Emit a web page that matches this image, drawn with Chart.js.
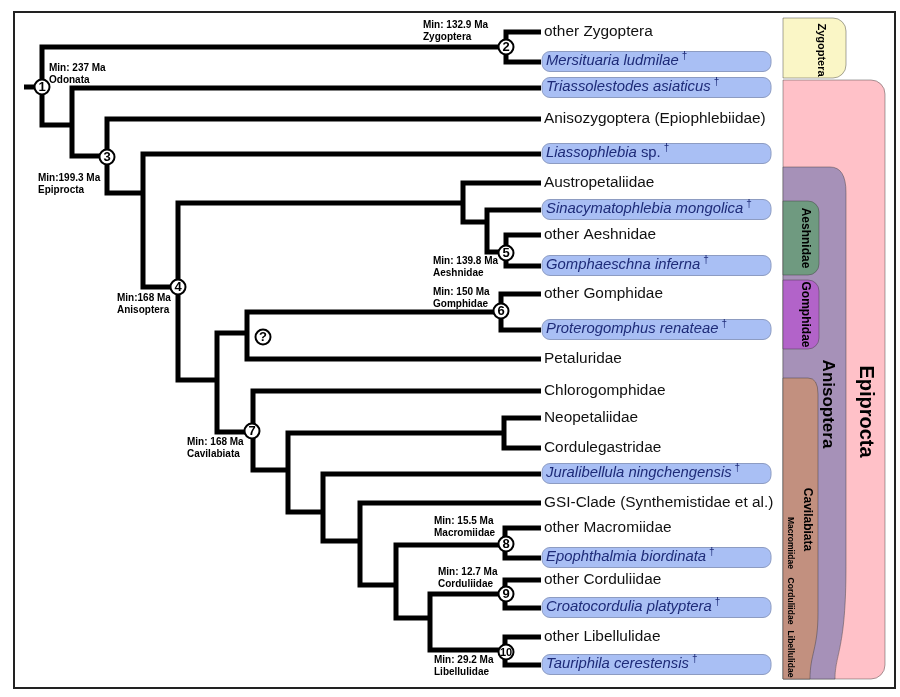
<!DOCTYPE html>
<html>
<head>
<meta charset="utf-8">
<script src="https://cdn.jsdelivr.net/npm/chart.js@4.4.0/dist/chart.umd.min.js"></script>
<style>
  html, body { margin: 0; padding: 0; background: #fff; }
  #wrap { position: relative; width: 900px; height: 697px; }
  #frame { position: absolute; left: 13px; top: 11px; width: 879px; height: 674px; border: 2px solid #222; }
  #tree { position: absolute; left: 0; top: 0; }
</style>
</head>
<body>
<div id="wrap"><div id="frame"></div><canvas id="tree" width="900" height="697"></canvas></div>
<script>
// --- DATA ---
// leaves, top to bottom; LEAF_POS is the row position
const LEAF_NAMES = ['other Zygoptera', 'Mersituaria ludmilae', 'Triassolestodes asiaticus',
  'Anisozygoptera (Epiophlebiidae)', 'Liassophlebia sp.', 'Austropetaliidae',
  'Sinacymatophlebia mongolica', 'other Aeshnidae', 'Gomphaeschna inferna', 'other Gomphidae',
  'Proterogomphus renateae', 'Petaluridae', 'Chlorogomphidae', 'Neopetaliidae', 'Cordulegastridae',
  'Juralibellula ningchengensis', 'GSI-Clade (Synthemistidae et al.)', 'other Macromiidae',
  'Epophthalmia biordinata', 'other Corduliidae', 'Croatocordulia platyptera', 'other Libellulidae',
  'Tauriphila cerestensis'];
const LEAF_POS = [32, 62, 88, 119, 154, 183, 210, 235, 266, 294, 330, 359, 391, 418, 448, 474, 503, 528, 558, 580, 608, 637, 665];
const LEAF_FOSSIL = [0, 1, 1, 0, 1, 0, 1, 0, 1, 0, 1, 0, 0, 0, 0, 1, 0, 0, 1, 0, 1, 0, 1];

// internal nodes: depth, row, and the two children (L = leaf index, N = node index)
const NODE_DEPTH = [42, 506, 72, 107, 143, 178, 463, 487, 506, 217, 247, 501, 253, 288, 504, 323, 360, 396, 505, 430, 505, 505];
const NODE_POS = [87, 47, 125, 156, 193, 287, 203, 222, 252, 380, 333, 312, 432, 470, 433, 512, 541, 585, 545, 618, 594, 650];
const NODE_KIDS = [['N1', 'N2'], ['L0', 'L1'], ['L2', 'N3'], ['L3', 'N4'], ['L4', 'N5'], ['N6', 'N9'],
  ['L5', 'N7'], ['L6', 'N8'], ['L7', 'L8'], ['N10', 'N12'], ['N11', 'L11'], ['L9', 'L10'],
  ['L12', 'N13'], ['N14', 'N15'], ['L13', 'L14'], ['L15', 'N16'], ['L16', 'N17'], ['N18', 'N19'],
  ['L17', 'L18'], ['N20', 'N21'], ['L19', 'L20'], ['L21', 'L22']];
const ROOT_DEPTH = 24;
const TIP_DEPTH = 541;

// numbered calibration points
const MARKER_LABELS = ['1', '2', '3', '4', '5', '6', '?', '7', '8', '9', '10'];
const MARKER_DEPTH = [42, 506, 107, 178, 506, 501, 263, 252, 506, 506, 506];
const MARKER_POS = [87, 47, 157, 287, 253, 311, 337, 431, 544, 594, 652];

// minimum ages
const AGE_TEXT = ['Min: 237 Ma', 'Min: 132.9 Ma', 'Min:199.3 Ma', 'Min:168 Ma', 'Min: 139.8 Ma',
  'Min: 150 Ma', 'Min: 168 Ma', 'Min: 15.5 Ma', 'Min: 12.7 Ma', 'Min: 29.2 Ma'];
const AGE_CLADE = ['Odonata', 'Zygoptera', 'Epiprocta', 'Anisoptera', 'Aeshnidae', 'Gomphidae',
  'Cavilabiata', 'Macromiidae', 'Corduliidae', 'Libellulidae'];
const AGE_DEPTH = [49, 423, 38, 117, 433, 433, 187, 434, 438, 434];
const AGE_POS = [68, 25, 178, 298, 261, 292, 442, 521, 572, 660];

// clade bands on the right (leaf spans)
const CLADE_NAMES = ['Epiprocta', 'Zygoptera', 'Anisoptera', 'Aeshnidae', 'Gomphidae', 'Cavilabiata'];
const CLADE_FIRST = [2, 0, 5, 6, 9, 12];
const CLADE_LAST = [22, 1, 22, 8, 10, 22];
const SUB_NAMES = ['Macromiidae', 'Corduliidae', 'Libellulidae'];
const SUB_FIRST = [17, 19, 21];

// --- STYLE ---
const FONT = "'Liberation Sans', Arial, sans-serif";
const PLAIN_STRETCH = 1.1;
const ITALIC_STRETCH = 1.06;
const BAND_STYLE = {
  Epiprocta:   { right: 885, color: '#ffc1c8', r: 14, font: 'bold 20px', tx: 866, dy: 32, pad: [5, 0] },
  Zygoptera:   { right: 846, color: '#faf6c6', r: 13, font: 'bold 11px', tx: 821, dy: 2, pad: [0, 3] },
  Anisoptera:  { right: 846, bottomRight: 835, color: '#a691b8', r: 16, font: 'bold 17px', tx: 828, dy: -19, pad: [-1.5, 0] },
  Aeshnidae:   { right: 819, color: '#6f9a80', r: 11, font: 'bold 12px', tx: 805, dy: 0, pad: [4.5, -5] },
  Gomphidae:   { right: 819, color: '#b263c9', r: 11, font: 'bold 12px', tx: 805, dy: 0, pad: [0, 4.5] },
  Cavilabiata: { right: 818, bottomRight: 810, color: '#c2907f', r: 10, font: 'bold 12px', tx: 807, dy: -9, pad: [3, 0] },
};
const SUB_DY = [0, 7, 3];
const BAND_LEFT = 783;

// --- BUILD TREE LINES ---
const kidDepth = k => k[0] === 'L' ? TIP_DEPTH : NODE_DEPTH[+k.slice(1)];
const kidPos = k => k[0] === 'L' ? LEAF_POS[+k.slice(1)] : NODE_POS[+k.slice(1)];

const branchPoints = [{ x: ROOT_DEPTH, y: NODE_POS[0] }, { x: NODE_DEPTH[0], y: NODE_POS[0] }, { x: ROOT_DEPTH, y: null }];
NODE_KIDS.forEach(([a, b], i) => {
  branchPoints.push(
    { x: kidDepth(a), y: kidPos(a) },
    { x: NODE_DEPTH[i], y: kidPos(a) },
    { x: NODE_DEPTH[i], y: kidPos(b) },
    { x: kidDepth(b), y: kidPos(b) },
    { x: NODE_DEPTH[i], y: null }
  );
});
const markerPoints = MARKER_LABELS.map((_, i) => ({ x: MARKER_DEPTH[i], y: MARKER_POS[i] }));

// --- HELPERS ---
function bandSpan(first, last, pad) {
  const top = first > 0 ? (LEAF_POS[first - 1] + LEAF_POS[first]) / 2 : LEAF_POS[0] - 14;
  const bottom = last < LEAF_POS.length - 1 ? (LEAF_POS[last] + LEAF_POS[last + 1]) / 2 : LEAF_POS[last] + 14;
  return [top + pad[0], bottom + pad[1]];
}

function bandPath(ctx, x0, y0, x1, y1, r, xb) {
  ctx.beginPath();
  ctx.moveTo(x0, y0);
  ctx.lineTo(x1 - r, y0);
  if (xb === undefined) {
    ctx.arcTo(x1, y0, x1, y0 + r, r);
    ctx.lineTo(x1, y1 - r);
    ctx.arcTo(x1, y1, x1 - r, y1, r);
  } else {
    ctx.quadraticCurveTo(x1, y0, x1, y0 + r * 1.6);
    ctx.lineTo(x1, y1 - (y1 - y0) * 0.22);
    ctx.bezierCurveTo(x1, y1 - 30, xb, y1 - 25, xb, y1);
  }
  ctx.lineTo(x0, y1);
  ctx.closePath();
}

function rotatedText(ctx, text, cx, cy) {
  ctx.save();
  ctx.translate(cx, cy);
  ctx.rotate(Math.PI / 2);
  ctx.textAlign = 'center';
  ctx.textBaseline = 'middle';
  ctx.fillText(text, 0, 0);
  ctx.restore();
}

// draws horizontally stretched label text, returns its width
function wideText(ctx, text, px, py, stretch) {
  ctx.save();
  ctx.translate(px, py);
  ctx.scale(stretch, 1);
  ctx.fillText(text, 0, 0);
  ctx.restore();
  return ctx.measureText(text).width * stretch;
}

function roundBox(ctx, x0, y0, x1, y1, r) {
  ctx.beginPath();
  ctx.moveTo(x0 + r, y0);
  ctx.arcTo(x1, y0, x1, y1, r);
  ctx.arcTo(x1, y1, x0, y1, r);
  ctx.arcTo(x0, y1, x0, y0, r);
  ctx.arcTo(x0, y0, x1, y0, r);
  ctx.closePath();
}

// --- PLUGIN: bands, labels, node numbers ---
const treeDecor = {
  id: 'treeDecor',
  beforeDatasetsDraw(chart) {
    const { ctx, scales: { x, y } } = chart;
    ctx.save();
    // clade bands
    CLADE_NAMES.forEach((name, i) => {
      const s = BAND_STYLE[name];
      const [top, bottom] = bandSpan(CLADE_FIRST[i], CLADE_LAST[i], s.pad);
      const y0 = y.getPixelForValue(top), y1 = y.getPixelForValue(bottom);
      bandPath(ctx, x.getPixelForValue(BAND_LEFT), y0, x.getPixelForValue(s.right), y1, s.r,
        s.bottomRight === undefined ? undefined : x.getPixelForValue(s.bottomRight));
      ctx.fillStyle = s.color;
      ctx.fill();
      ctx.strokeStyle = 'rgba(60,60,60,0.45)';
      ctx.lineWidth = 1;
      ctx.stroke();
    });
    ctx.fillStyle = '#000';
    CLADE_NAMES.forEach((name, i) => {
      const s = BAND_STYLE[name];
      const [top, bottom] = bandSpan(CLADE_FIRST[i], CLADE_LAST[i], s.pad);
      ctx.font = `${s.font} ${FONT}`;
      rotatedText(ctx, name, x.getPixelForValue(s.tx), y.getPixelForValue((top + bottom) / 2 + s.dy));
    });
    ctx.font = `bold 8.5px ${FONT}`;
    SUB_NAMES.forEach((name, i) => {
      const mid = (LEAF_POS[SUB_FIRST[i]] + LEAF_POS[SUB_FIRST[i] + 1]) / 2 + SUB_DY[i];
      rotatedText(ctx, name, x.getPixelForValue(790), y.getPixelForValue(mid));
    });

    // fossil boxes
    LEAF_NAMES.forEach((name, i) => {
      if (!LEAF_FOSSIL[i]) return;
      const py = y.getPixelForValue(LEAF_POS[i]);
      roundBox(ctx, x.getPixelForValue(TIP_DEPTH + 1), py - 10.5, x.getPixelForValue(771), py + 9.5, 8);
      ctx.fillStyle = '#a9bff4';
      ctx.fill();
      ctx.strokeStyle = '#8d9cc2';
      ctx.lineWidth = 1;
      ctx.stroke();
    });
    ctx.restore();
  },
  afterDatasetsDraw(chart) {
    const { ctx, scales: { x, y } } = chart;
    ctx.save();
    ctx.textBaseline = 'middle';
    ctx.textAlign = 'left';

    // leaf labels
    LEAF_NAMES.forEach((name, i) => {
      const py = y.getPixelForValue(LEAF_POS[i]);
      if (!LEAF_FOSSIL[i]) {
        ctx.font = `14px ${FONT}`;
        ctx.fillStyle = '#111';
        wideText(ctx, name, x.getPixelForValue(TIP_DEPTH + 3), py, PLAIN_STRETCH);
        return;
      }
      let px = x.getPixelForValue(TIP_DEPTH + 5);
      const [genus, rest] = name.endsWith(' sp.') ? [name.slice(0, -4), ' sp.'] : [name, ''];
      ctx.fillStyle = '#1e2b78';
      ctx.font = `italic 14px ${FONT}`;
      px += wideText(ctx, genus, px, py - 1, ITALIC_STRETCH);
      if (rest) {
        ctx.font = `14px ${FONT}`;
        px += wideText(ctx, rest, px, py - 1, ITALIC_STRETCH);
      }
      ctx.font = `10px ${FONT}`;
      ctx.fillText('\u2020', px + 3, py - 6);
    });

    // minimum ages
    ctx.fillStyle = '#000';
    ctx.font = `bold 10px ${FONT}`;
    AGE_TEXT.forEach((t, i) => {
      const px = x.getPixelForValue(AGE_DEPTH[i]);
      const py = y.getPixelForValue(AGE_POS[i]);
      ctx.fillText(t, px, py);
      ctx.fillText(AGE_CLADE[i], px, py + 12);
    });

    // node numbers
    ctx.textAlign = 'center';
    MARKER_LABELS.forEach((t, i) => {
      ctx.font = `bold ${t.length > 1 ? 11 : 13}px ${FONT}`;
      ctx.fillText(t, x.getPixelForValue(MARKER_DEPTH[i]), y.getPixelForValue(MARKER_POS[i]) + 0.5);
    });
    ctx.restore();
  }
};

// --- CHART ---
new Chart(document.getElementById('tree'), {
  type: 'scatter',
  data: {
    datasets: [
      {
        label: 'nodes',
        data: markerPoints,
        order: 0,
        pointRadius: 7.5,
        pointHoverRadius: 7.5,
        pointBackgroundColor: '#fff',
        pointBorderColor: '#000',
        pointBorderWidth: 2,
      },
      {
        label: 'branches',
        data: branchPoints,
        order: 1,
        showLine: true,
        spanGaps: false,
        borderColor: '#000',
        borderWidth: 5,
        borderJoinStyle: 'miter',
        borderCapStyle: 'butt',
        pointRadius: 0,
        tension: 0,
      }
    ]
  },
  options: {
    responsive: false,
    devicePixelRatio: 1,
    animation: false,
    events: [],
    layout: { padding: 0, autoPadding: false },
    plugins: { legend: { display: false }, tooltip: { enabled: false } },
    scales: {
      x: { type: 'linear', min: 0, max: 900, display: false },
      y: { type: 'linear', min: 0, max: 697, reverse: true, display: false }
    }
  },
  plugins: [treeDecor]
});
</script>
</body>
</html>
